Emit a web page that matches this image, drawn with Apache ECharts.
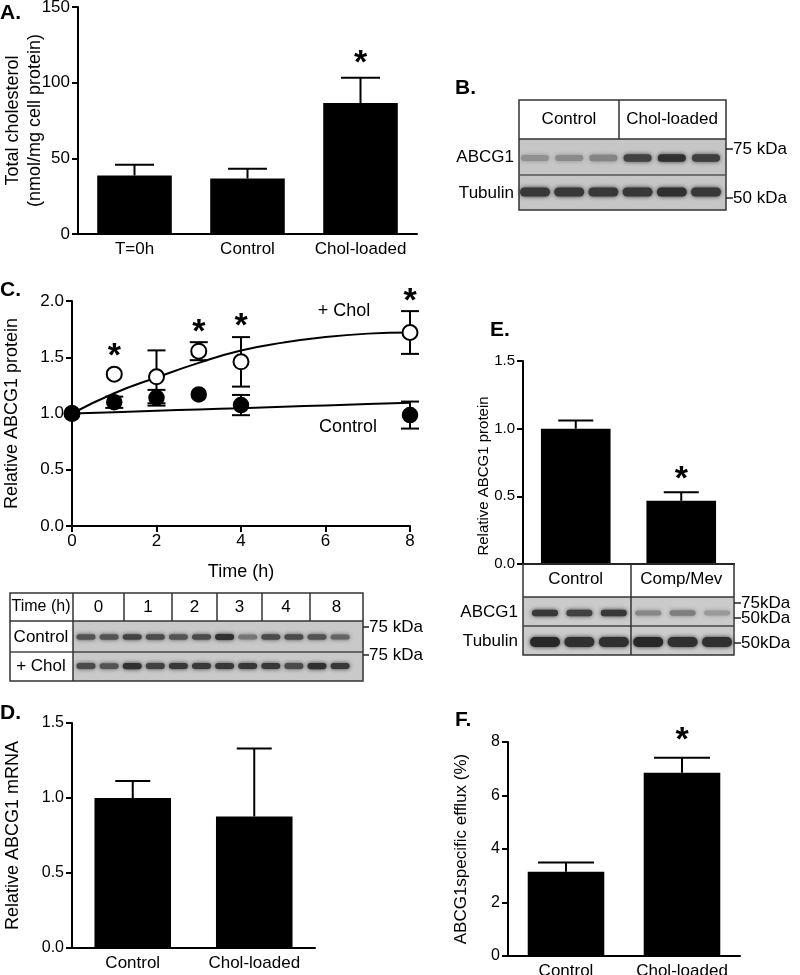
<!DOCTYPE html>
<html><head><meta charset="utf-8">
<script src="https://cdn.jsdelivr.net/npm/echarts@6/dist/echarts.min.js"></script>
<style>html,body{margin:0;padding:0;background:#fff}#c{width:800px;height:975px}</style>
</head><body><div id="c"></div>
<script>
// ---------- DATA ----------
// Panel A
const catA = ['T=0h', 'Control', 'Chol-loaded'];
const valA = [38.7, 36.7, 86.5];
const errA = [7.1, 6.4, 16.8];
const starA = [0, 0, 1];
// Panel C
const timeC = [0, 1, 2, 3, 4, 8];
const cholC = [1.0, 1.35, 1.326, 1.554, 1.459, 1.72];
const cholErrC = [0, 0, 0.235, 0.08, 0.22, 0.19];
const ctrlC = [1.0, 1.10, 1.14, 1.17, 1.075, 0.986];
const ctrlErrC = [0, 0.05, 0.07, 0, 0.09, 0.12];
const starC = [0, 1, 0, 1, 1, 1];
const fitTimeC = [0, 1, 2, 3, 4, 5, 6, 7, 8];
const cholFitC = [1.0, 1.18, 1.32, 1.45, 1.56, 1.63, 1.68, 1.71, 1.72];
const ctrlFitC = [1.0, 1.012, 1.024, 1.036, 1.047, 1.06, 1.072, 1.084, 1.095];
const blotTimesC = ['0', '1', '2', '3', '4', '8'];
// Panel D
const catD = ['Control', 'Chol-loaded'];
const valD = [1.0, 0.877];
const errD = [0.113, 0.453];
// Panel E
const catE = ['Control', 'Comp/Mev'];
const valE = [1.0, 0.467];
const errE = [0.06, 0.063];
const starE = [0, 1];
// Panel F
const catF = ['Control', 'Chol-loaded'];
const valF = [3.15, 6.85];
const errF = [0.35, 0.56];
const starF = [0, 1];
// Blot band intensities (0..1)
const bandB_abcg1 = [0.35, 0.38, 0.42, 0.8, 0.9, 0.82];
const bandB_tub = [0.85, 0.85, 0.85, 0.85, 0.9, 0.85];
const bandC_ctrl = [0.7, 0.7, 0.8, 0.75, 0.7, 0.75, 0.9, 0.5, 0.75, 0.75, 0.7, 0.6];
const bandC_chol = [0.75, 0.7, 0.9, 0.8, 0.85, 0.85, 0.85, 0.85, 0.85, 0.75, 0.9, 0.85];
const bandE_abcg1 = [0.85, 0.8, 0.85, 0.4, 0.45, 0.3];
const bandE_tub = [0.95, 0.9, 0.9, 0.95, 0.9, 0.9];

// ---------- STYLE ----------
const F = '"Liberation Sans", Arial, Helvetica, sans-serif';
const STARFONT = 'bold 34px ' + F;

const chart = echarts.init(document.getElementById('c'), null, {renderer: 'canvas'});

function yAx(grid, min, max, interval, name, gap, dec, lblSize, nameSize) {
  return {
    type: 'value', gridIndex: grid, min, max, interval,
    name, nameLocation: 'middle', nameGap: gap, nameMoveOverlap: false,
    nameTextStyle: {color: '#000', fontSize: nameSize || 18, fontFamily: F, lineHeight: 22},
    axisLine: {show: true, lineStyle: {color: '#000', width: 2}},
    axisTick: {show: true, length: 6, lineStyle: {color: '#000', width: 2}},
    axisLabel: {color: '#000', fontSize: lblSize || 17, fontFamily: F, margin: 8,
      formatter: v => dec ? v.toFixed(1) : String(v)},
    splitLine: {show: false}
  };
}
function xCat(grid, data) {
  return {
    type: 'category', gridIndex: grid, data,
    axisLine: {show: true, lineStyle: {color: '#000', width: 2}},
    axisTick: {show: false},
    axisLabel: {show: true, interval: 0, color: '#000', fontSize: 17, fontFamily: F, margin: 7},
    splitLine: {show: false}
  };
}

function starText(x, y) {
  return {type: 'text', x, y,
    style: {text: '*', fill: '#000', font: STARFONT, align: 'center', verticalAlign: 'middle', textAlign: 'center', textVerticalAlign: 'middle'}};
}
function barErrItem(capW, starGap) {
  return function (params, api) {
    const i = api.value(0), v = api.value(1), e = api.value(2), s = api.value(3);
    const p0 = api.coord([i, v]), p1 = api.coord([i, v + e]);
    const ch = [
      {type: 'line', shape: {x1: p0[0], y1: p0[1], x2: p1[0], y2: p1[1]}, style: {stroke: '#000', lineWidth: 2}},
      {type: 'line', shape: {x1: p1[0] - capW / 2, y1: p1[1], x2: p1[0] + capW / 2, y2: p1[1]}, style: {stroke: '#000', lineWidth: 2}}
    ];
    if (s) ch.push(starText(p1[0], p1[1] - starGap));
    return {type: 'group', children: ch};
  };
}
function ptErrItem(capW, starGap) {
  return function (params, api) {
    const t = api.value(0), v = api.value(1), e = api.value(2), s = api.value(3);
    const ch = [];
    if (e > 0) {
      const lo = api.coord([t, v - e]), hi = api.coord([t, v + e]);
      ch.push({type: 'line', shape: {x1: lo[0], y1: lo[1], x2: hi[0], y2: hi[1]}, style: {stroke: '#000', lineWidth: 2}});
      ch.push({type: 'line', shape: {x1: lo[0] - capW / 2, y1: lo[1], x2: lo[0] + capW / 2, y2: lo[1]}, style: {stroke: '#000', lineWidth: 2}});
      ch.push({type: 'line', shape: {x1: hi[0] - capW / 2, y1: hi[1], x2: hi[0] + capW / 2, y2: hi[1]}, style: {stroke: '#000', lineWidth: 2}});
    }
    if (s) {
      const c = api.coord([t, v]), hi = api.coord([t, v + e]);
      const top = Math.min(hi[1], c[1] - 8);
      ch.push(starText(c[0], top - starGap));
    }
    return {type: 'group', children: ch};
  };
}

// ---------- GRAPHICS (panel letters, blots, annotations) ----------
const G = [];
function rect(x, y, w, h, fill, stroke, lw) {
  G.push({type: 'rect', silent: true, z: 10, shape: {x, y, width: w, height: h},
    style: {fill: fill || 'none', stroke: stroke || null, lineWidth: lw || 1}});
}
function line(x1, y1, x2, y2, c, lw) {
  G.push({type: 'line', silent: true, z: 12, shape: {x1, y1, x2, y2}, style: {stroke: c || '#222', lineWidth: lw || 1.5}});
}
function text(t, x, y, align, size, weight, rot) {
  G.push({type: 'text', silent: true, z: 13, x, y, rotation: rot || 0,
    style: {text: t, fill: '#000', font: (weight || 'normal') + ' ' + (size || 17) + 'px ' + F,
      textAlign: align || 'left', textVerticalAlign: 'middle', align: align || 'left', verticalAlign: 'middle'}});
}
function band(cx, cy, w, h, k) {
  const g = Math.round(205 - k * 175);
  const col = 'rgb(' + g + ',' + g + ',' + g + ')';
  G.push({type: 'rect', silent: true, z: 11, shape: {x: cx - w / 2, y: cy - h / 2, width: w, height: h, r: h / 2},
    style: {fill: col, shadowBlur: 4, shadowColor: col}});
}

// panel letters
text('A.', 0, 13, 'left', 21, 'bold');
text('B.', 455, 88, 'left', 21, 'bold');
text('C.', 0, 290, 'left', 21, 'bold');
text('D.', 0, 713, 'left', 21, 'bold');
text('E.', 490, 330, 'left', 21, 'bold');
text('F.', 455, 720, 'left', 21, 'bold');

// Panel B blot
rect(519, 139, 207, 71, '#c6c6c6');
rect(519, 100, 207, 110, null, '#333', 1.5);
line(519, 139, 726, 139, '#333', 1.5);
line(519, 175, 726, 175, '#555', 1.5);
line(619, 100, 619, 139, '#333', 1.5);
text('Control', 569, 119, 'center', 17);
text('Chol-loaded', 672, 119, 'center', 17);
text('ABCG1', 514, 157, 'right', 17);
text('Tubulin', 514, 193, 'right', 17);
line(726, 149, 733, 149, '#222', 1.5); text('75 kDa', 733, 149, 'left', 17);
line(726, 198, 733, 198, '#222', 1.5); text('50 kDa', 733, 198, 'left', 17);
bandB_abcg1.forEach((k, i) => band(535 + i * 34.2, 158, 28, 5 + k * 3, k));
bandB_tub.forEach((k, i) => band(535 + i * 34.2, 192, 30, 9, k));

// Panel C annotations + blot
text('+ Chol', 344, 311, 'center', 18);
text('Control', 348, 427, 'center', 18);
rect(73, 621, 290, 60, '#c9c9c9');
rect(10, 593, 353, 88, null, '#333', 1.5);
line(10, 621, 363, 621, '#333', 1.5);
line(10, 652, 363, 652, '#444', 1.5);
line(73, 593, 73, 681, '#333', 1.5);
const colEdgesC = [73, 124, 172, 217, 262, 310, 363];
for (let i = 1; i < colEdgesC.length - 1; i++) line(colEdgesC[i], 593, colEdgesC[i], 621, '#333', 1.5);
text('Time (h)', 41, 607, 'center', 16);
blotTimesC.forEach((t, i) => text(t, (colEdgesC[i] + colEdgesC[i + 1]) / 2, 607, 'center', 17));
text('Control', 41, 637, 'center', 17);
text('+ Chol', 41, 666, 'center', 17);
line(363, 627, 369, 627, '#222', 1.5); text('75 kDa', 369, 627, 'left', 17);
line(363, 655, 369, 655, '#222', 1.5); text('75 kDa', 369, 655, 'left', 17);
bandC_ctrl.forEach((k, i) => band(86 + i * 23.1, 637, 19, 4 + k * 2, k));
bandC_chol.forEach((k, i) => band(86 + i * 23.1, 666, 19, 4 + k * 2.5, k));

// Panel E title, table + blot
text('Relative ABCG1 protein', 484, 476, 'center', 15, 'normal', Math.PI / 2);
rect(523, 597, 210, 58, '#cbcbcb');
rect(523, 564, 211, 91, null, '#333', 1.5);
line(523, 597, 734, 597, '#333', 1.5);
line(523, 626, 734, 626, '#444', 1.5);
line(631, 564, 631, 655, '#333', 1.5);
text('ABCG1', 518, 612, 'right', 17);
text('Tubulin', 518, 641, 'right', 17);
line(734, 603, 741, 603, '#222', 1.5); text('75kDa', 741, 603, 'left', 17);
line(734, 618, 741, 618, '#222', 1.5); text('50kDa', 741, 618, 'left', 17);
line(734, 643, 741, 643, '#222', 1.5); text('50kDa', 741, 643, 'left', 17);
bandE_abcg1.forEach((k, i) => band(545 + i * 34.4, 613, 26, 4 + k * 3, k));
bandE_tub.forEach((k, i) => band(545 + i * 34.4, 642, 30, 10, k));

// ---------- OPTION ----------
const option = {
  backgroundColor: '#fff',
  animation: false,
  textStyle: {fontFamily: F},
  grid: [
    {left: 78, top: 7, width: 339, height: 227, outerBoundsMode: 'none'},
    {left: 72, top: 301, width: 338, height: 225, outerBoundsMode: 'none'},
    {left: 523, top: 361, width: 211, height: 203, outerBoundsMode: 'none'},
    {left: 72, top: 723, width: 243, height: 225, outerBoundsMode: 'none'},
    {left: 508, top: 742, width: 232, height: 214, outerBoundsMode: 'none'}
  ],
  xAxis: [
    xCat(0, catA),
    {type: 'value', gridIndex: 1, min: 0, max: 8, interval: 2,
      name: 'Time (h)', nameLocation: 'middle', nameGap: 37, nameMoveOverlap: false,
      nameTextStyle: {color: '#000', fontSize: 18, fontFamily: F},
      axisLine: {show: true, lineStyle: {color: '#000', width: 2}},
      axisTick: {show: true, length: 6, lineStyle: {color: '#000', width: 2}},
      axisLabel: {color: '#000', fontSize: 17, fontFamily: F, margin: 7},
      splitLine: {show: false}},
    xCat(2, catE),
    xCat(3, catD),
    xCat(4, catF)
  ],
  yAxis: [
    yAx(0, 0, 150, 50, 'Total cholesterol\n(nmol/mg cell protein)', 32, false, 17, 18),
    yAx(1, 0, 2, 0.5, 'Relative ABCG1 protein', 49, true, 17, 18),
    yAx(2, 0, 1.5, 0.5, '', 38, true, 15, 15),
    yAx(3, 0, 1.5, 0.5, 'Relative ABCG1 mRNA', 48, true, 16, 18),
    yAx(4, 0, 8, 2, 'ABCG1specific efflux (%)', 36, false, 16, 17)
  ],
  graphic: {elements: G},
  series: [
    // A
    {type: 'bar', xAxisIndex: 0, yAxisIndex: 0, data: valA, barWidth: '66%', itemStyle: {color: '#000'}},
    {type: 'custom', xAxisIndex: 0, yAxisIndex: 0, z: 5, renderItem: barErrItem(39, 14),
      data: catA.map((c, i) => [i, valA[i], errA[i], starA[i]])},
    // C
    {type: 'line', xAxisIndex: 1, yAxisIndex: 1, smooth: true, showSymbol: false, z: 2,
      lineStyle: {color: '#000', width: 2}, data: fitTimeC.map((t, i) => [t, ctrlFitC[i]])},
    {type: 'line', xAxisIndex: 1, yAxisIndex: 1, smooth: true, showSymbol: false, z: 2,
      lineStyle: {color: '#000', width: 2}, data: fitTimeC.map((t, i) => [t, cholFitC[i]])},
    {type: 'custom', xAxisIndex: 1, yAxisIndex: 1, z: 3, renderItem: ptErrItem(18, 0),
      data: timeC.map((t, i) => [t, ctrlC[i], ctrlErrC[i], 0])},
    {type: 'custom', xAxisIndex: 1, yAxisIndex: 1, z: 3, renderItem: ptErrItem(18, 10),
      data: timeC.map((t, i) => [t, cholC[i], cholErrC[i], starC[i]])},
    {type: 'scatter', xAxisIndex: 1, yAxisIndex: 1, z: 4, symbol: 'circle', symbolSize: 15,
      itemStyle: {color: '#fff', borderColor: '#000', borderWidth: 2, opacity: 1},
      data: timeC.map((t, i) => [t, cholC[i]])},
    {type: 'scatter', xAxisIndex: 1, yAxisIndex: 1, z: 5, symbol: 'circle', symbolSize: 15,
      itemStyle: {color: '#000', borderColor: '#000', borderWidth: 1.5, opacity: 1},
      data: timeC.map((t, i) => [t, ctrlC[i]])},
    // E
    {type: 'bar', xAxisIndex: 2, yAxisIndex: 2, data: valE, barWidth: '66%', itemStyle: {color: '#000'}},
    {type: 'custom', xAxisIndex: 2, yAxisIndex: 2, z: 5, renderItem: barErrItem(35, 13),
      data: catE.map((c, i) => [i, valE[i], errE[i], starE[i]])},
    // D
    {type: 'bar', xAxisIndex: 3, yAxisIndex: 3, data: valD, barWidth: '63%', itemStyle: {color: '#000'}},
    {type: 'custom', xAxisIndex: 3, yAxisIndex: 3, z: 5, renderItem: barErrItem(35, 14),
      data: catD.map((c, i) => [i, valD[i], errD[i], 0])},
    // F
    {type: 'bar', xAxisIndex: 4, yAxisIndex: 4, data: valF, barWidth: '66%', itemStyle: {color: '#000'}},
    {type: 'custom', xAxisIndex: 4, yAxisIndex: 4, z: 5, renderItem: barErrItem(56, 17),
      data: catF.map((c, i) => [i, valF[i], errF[i], starF[i]])}
  ]
};
chart.setOption(option);
</script></body></html>
